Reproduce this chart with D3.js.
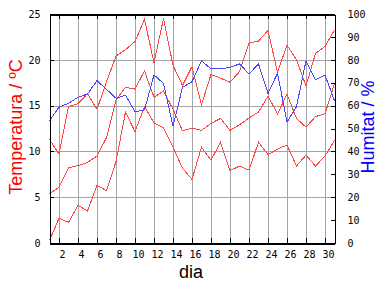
<!DOCTYPE html>
<html>
<head>
<meta charset="utf-8">
<script src="https://cdn.jsdelivr.net/npm/d3@7"></script>
<style>
body { margin: 0; background: #ffffff; }
</style>
</head>
<body>
<div id="canvas"></div>
<script>
"use strict"

/* the data of the month, one value per day */
let dies = [1,2,3,4,5,6,7,8,9,10,11,12,13,14,15,16,17,18,19,20,21,22,23,24,25,26,27,28,29,30,31];
let tempMax = [11.3,9.7,14.9,15.2,16.3,14.6,17.6,20.4,21.1,22.0,24.4,19.7,24.5,19.4,17.2,19.25,
               15.1,18.4,18.0,17.55,18.7,21.8,22.05,23.2,18.65,21.6,20.0,17.15,20.7,21.45,23.25];
let tempMitjana = [5.35,6.1,8.2,8.45,8.8,9.5,11.5,15.6,17.0,16.8,18.8,15.9,16.6,14.6,12.25,12.55,
                   12.3,13.05,13.6,12.3,12.9,13.65,14.3,16.05,14.1,16.25,13.6,12.65,13.8,14.1,17.4];
let tempMin = [0.3,2.7,2.25,4.1,3.5,6.3,5.7,8.9,14.3,12.15,14.9,13.1,12.6,10.5,8.15,6.95,
               10.45,9.05,11.0,7.9,8.4,7.95,11.0,9.65,10.25,10.7,8.4,9.6,8.4,9.5,11.2];
let humitat = [53.4,59.3,61.0,63.6,65.1,70.9,67.1,63.2,64.6,57.3,58.1,73.4,69.7,51.0,68.0,70.4,
               79.6,76.0,76.0,76.7,78.2,73.8,78.2,65.3,74.1,52.8,59.5,79.6,71.2,73.4,62.1];

/* tick labels */
let diaTicks = [2,4,6,8,10,12,14,16,18,20,22,24,26,28,30];
let tempTicks = [0,5,10,15,20,25];
let humTicks = [0,10,20,30,40,50,60,70,80,90,100];
let gridTemp = [5,10,15,20];

let plotLeft = 49.5;
let plotRight = 334.5;
let plotTop = 14;
let plotBottom = 243;

let drawing = d3.select("#canvas")
    .append("svg")
    .attr("width", 384)
    .attr("height", 288);

let x = d3.scaleLinear()
    .domain([1, 31])
    .range([plotLeft, plotRight]);

let yTemp = d3.scaleLinear()
    .domain([0, 25])
    .range([plotBottom, plotTop]);

let yHum = d3.scaleLinear()
    .domain([0, 100])
    .range([plotBottom, plotTop]);

/* grey grid, vertical every 2 days */
let gridX = drawing.append("g")
    .attr("transform", "translate(0," + plotBottom + ")")
    .call(d3.axisBottom(x).tickValues(diaTicks).tickSize(-(plotBottom - plotTop)).tickFormat(""));
gridX.select(".domain").remove();
gridX.selectAll("line")
    .attr("stroke", "#a4a4a4")
    .attr("shape-rendering", "crispEdges");

/* grey grid, horizontal every 5 degrees */
let gridY = drawing.append("g")
    .attr("transform", "translate(" + plotLeft + ",0)")
    .call(d3.axisLeft(yTemp).tickValues(gridTemp).tickSize(-(plotRight - plotLeft)).tickFormat(""));
gridY.select(".domain").remove();
gridY.selectAll("line")
    .attr("stroke", "#a4a4a4")
    .attr("shape-rendering", "crispEdges");

/* the temperature lines: max, mean, min */
let lineTemp = d3.line()
    .x((d, i) => x(dies[i]))
    .y(d => yTemp(d));

let temperatures = [tempMax, tempMitjana, tempMin];
drawing.append("g")
    .selectAll("path")
    .data(temperatures)
    .join("path")
    .attr("d", lineTemp)
    .attr("fill", "none")
    .attr("stroke", "#ff4646")
    .attr("stroke-width", 1)
    .attr("shape-rendering", "crispEdges");//pixel look like the original

/* the humidity line */
let lineHum = d3.line()
    .x((d, i) => x(dies[i]))
    .y(d => yHum(d));

drawing.append("path")
    .datum(humitat)
    .attr("d", lineHum)
    .attr("fill", "none")
    .attr("stroke", "#4646ff")
    .attr("stroke-width", 1)
    .attr("shape-rendering", "crispEdges");

/* axes, ticks point inside */
let tickFont = "'DejaVu Sans Mono', monospace";

let axisBottom = drawing.append("g")
    .attr("transform", "translate(0," + plotBottom + ")")
    .call(d3.axisBottom(x).tickValues(diaTicks).tickSizeInner(-5).tickSizeOuter(0).tickPadding(8));

let axisTop = drawing.append("g")
    .attr("transform", "translate(0," + plotTop + ")")
    .call(d3.axisTop(x).tickValues(diaTicks).tickSizeInner(-5).tickSizeOuter(0).tickFormat(""));

let axisLeft = drawing.append("g")
    .attr("transform", "translate(" + plotLeft + ",0)")
    .call(d3.axisLeft(yTemp).tickValues(tempTicks).tickSizeInner(-4).tickSizeOuter(0).tickPadding(9));

let axisRight = drawing.append("g")
    .attr("transform", "translate(" + plotRight + ",0)")
    .call(d3.axisRight(yHum).tickValues(humTicks).tickSizeInner(-4).tickSizeOuter(0).tickPadding(13));

[axisBottom, axisTop, axisLeft, axisRight].forEach(a => {
    a.select(".domain").attr("stroke", "black").attr("shape-rendering", "crispEdges");
    a.selectAll(".tick line").attr("stroke", "black").attr("shape-rendering", "crispEdges");
    a.selectAll("text")
        .attr("fill", "black")
        .style("font-family", tickFont)
        .style("font-size", "10px");
});
axisBottom.select(".domain").attr("stroke-width", 2);
axisTop.select(".domain").attr("stroke-width", 2);
axisBottom.selectAll("text").attr("dx", 3);

/* axis titles */
let titleFont = "'Liberation Sans', Arial, sans-serif";

drawing.append("text")
    .attr("transform", "translate(22,127) rotate(-90)")
    .attr("text-anchor", "middle")
    .style("font-family", titleFont)
    .style("font-size", "18px")
    .attr("fill", "#ff0000")
    .text("Temperatura / ºC");

drawing.append("text")
    .attr("transform", "translate(374,127) rotate(-90)")
    .attr("text-anchor", "middle")
    .style("font-family", titleFont)
    .style("font-size", "18px")
    .attr("fill", "#0000ff")
    .text("Humitat / %");

drawing.append("text")
    .attr("x", 191)
    .attr("y", 278)
    .attr("text-anchor", "middle")
    .style("font-family", titleFont)
    .style("font-size", "18px")
    .attr("fill", "black")
    .text("dia");
</script>
</body>
</html>
